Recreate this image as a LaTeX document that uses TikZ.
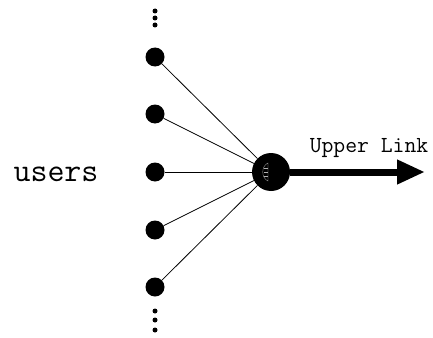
\documentclass[tikz,border=0pt]{standalone}
\usetikzlibrary{arrows.meta}
\begin{document}
\begin{tikzpicture}[x=1pt,y=-1pt,
  user/.style={circle,fill=black,inner sep=0pt,minimum size=19pt},
  hubnode/.style={circle,fill=black,inner sep=0pt,minimum size=38pt},
  smalldot/.style={circle,fill=black,inner sep=0pt,minimum size=5pt},
  spoke/.style={line width=0.8pt},
  uplink/.style={line width=7pt,-{Triangle[length=28pt,width=23pt]}},
  label/.style={font=\ttfamily,inner sep=0pt}]
  \useasboundingbox (0,0) rectangle (433,337);

  % users column
  \node[user] (u1) at (155,57) {};
  \node[user] (u2) at (155,114) {};
  \node[user] (u3) at (155,172) {};
  \node[user] (u4) at (155,230) {};
  \node[user] (u5) at (155,287) {};

  % continuation dots
  \node[smalldot] (t1) at (155,11) {};
  \node[smalldot] (t2) at (155,18) {};
  \node[smalldot] (t3) at (155,25) {};
  \node[smalldot] (b1) at (155,311) {};
  \node[smalldot] (b2) at (155,320) {};
  \node[smalldot] (b3) at (155,330) {};

  % concentrator
  \node[hubnode] (hub) at (271,172) {};
  \draw[gray!60,line width=0.3pt] (268,163) .. controls (261,166) and (261,178) .. (268,181) -- cycle;
  \foreach \yy in {168,172,176}
    \draw[gray!60,line width=0.3pt] (263.5,\yy) -- (268,\yy);

  % spokes
  \foreach \u in {u1,u2,u3,u4,u5}
    \draw[spoke] (\u) -- (hub);

  % upper link
  \coordinate (end) at (425,172);
  \draw[uplink] (hub.east) -- (end);

  % labels
  \node[label,font=\ttfamily\fontsize{33}{36}\selectfont] (users) at (56,174) {users};
  \node[label,font=\ttfamily\fontsize{23}{26}\selectfont] (link) at (369,148) {Upper Link};
\end{tikzpicture}
\end{document}
